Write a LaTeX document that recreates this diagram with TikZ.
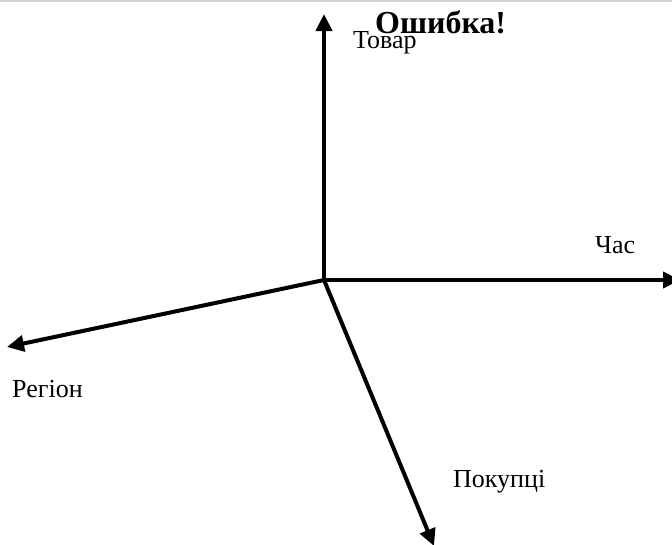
\documentclass[tikz,border=0pt]{standalone}
\usepackage{fontspec}
\setmainfont{Liberation Serif}
\usetikzlibrary{arrows.meta}
\begin{document}
\begin{tikzpicture}[x=1pt,y=-1pt,
  axis/.style={line width=4pt,-{Triangle[length=17pt,width=16pt]}},
  lbl/.style={anchor=base west,inner sep=0pt,font=\fontsize{26}{30}\selectfont},
  err/.style={anchor=base west,inner sep=0pt,font=\fontsize{32}{36}\selectfont\bfseries}]
\useasboundingbox (0,0) rectangle (672,544);
\fill[white] (0,0) rectangle (672,544);
\draw[color=black!18,line width=1.5pt] (0,0.75) -- (672,0.75);
\coordinate (o) at (324,280);
\coordinate (up) at (324,14);
\coordinate (right) at (680,280);
\coordinate (left) at (7,347);
\coordinate (down) at (434,546);
\draw[axis] (o) -- (up);
\draw[axis] (o) -- (right);
\draw[axis] (o) -- (left);
\draw[axis] (o) -- (down);
\node[lbl] (tovar) at (353,48) {Товар};
\node[err] (err) at (375,33) {Ошибка!};
\node[lbl] (chas) at (595,253) {Час};
\node[lbl] (region) at (12,397) {Регіон};
\node[lbl] (pokuptsi) at (453,487) {Покупці};
\end{tikzpicture}
\end{document}
